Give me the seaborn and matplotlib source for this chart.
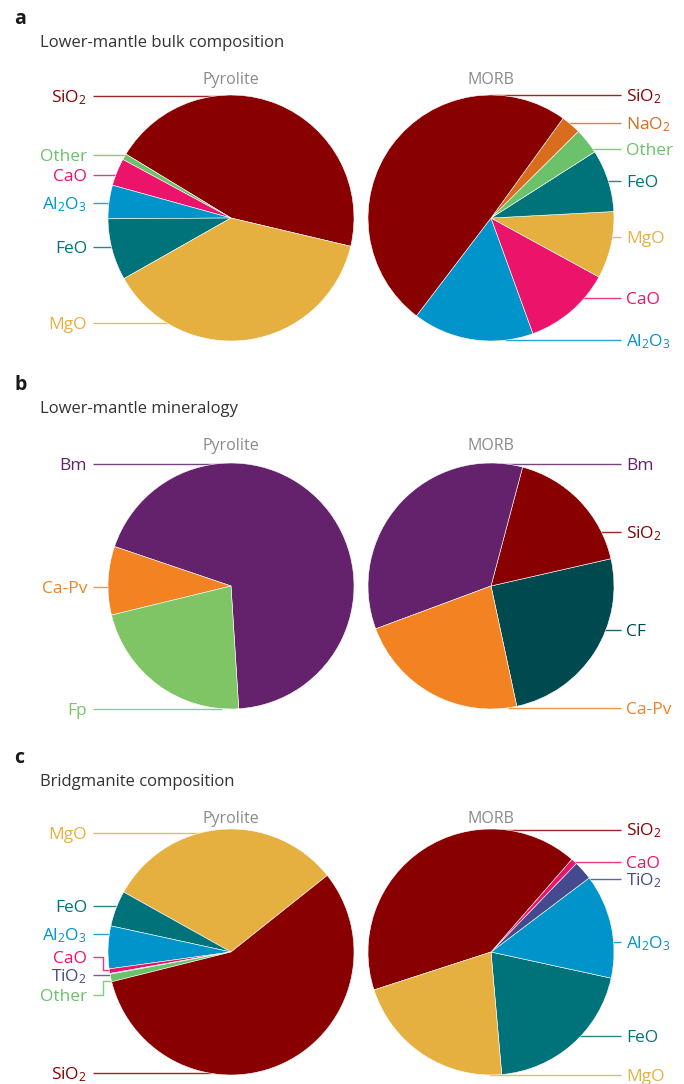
import numpy as np
import matplotlib
matplotlib.use("Agg")
import matplotlib.pyplot as plt
import seaborn as sns

W, H = 684, 1084

# ---- compositions (percent), listed counter-clockwise from the start angle ----
bulk_pyr_parts = ["SiO2", "Other", "CaO", "Al2O3", "FeO", "MgO"]
bulk_pyr_vals = [45.0, 0.8, 3.6, 4.4, 8.1, 38.1]

bulk_morb_parts = ["Al2O3", "CaO", "MgO", "FeO", "Other", "NaO2", "SiO2"]
bulk_morb_vals = [15.9, 11.5, 8.8, 8.2, 3.4, 2.6, 49.6]

min_pyr_parts = ["Bm", "Ca-Pv", "Fp"]
min_pyr_vals = [68.8, 9.0, 22.2]

min_morb_parts = ["CF", "SiO2", "Bm", "Ca-Pv"]
min_morb_vals = [25.2, 17.3, 34.8, 22.7]

bdg_pyr_parts = ["MgO", "FeO", "Al2O3", "CaO", "TiO2", "Other", "SiO2"]
bdg_pyr_vals = [31.2, 4.7, 5.6, 0.6, 0.1, 1.0, 56.8]

bdg_morb_parts = ["FeO", "Al2O3", "TiO2", "CaO", "SiO2", "MgO"]
bdg_morb_vals = [20.2, 13.7, 2.5, 0.8, 41.4, 21.4]

panel_letters = ["a", "b", "c"]
panel_titles = ["Lower-mantle bulk composition", "Lower-mantle mineralogy",
                "Bridgmanite composition"]
column_titles = ["Pyrolite", "MORB"]

display = {"SiO2": "SiO$_2$", "Al2O3": "Al$_2$O$_3$", "NaO2": "NaO$_2$",
           "TiO2": "TiO$_2$"}

colors = {
    "SiO2": "#890000", "MgO": "#E5B040", "FeO": "#00737A", "Al2O3": "#0094CB",
    "CaO": "#EC146A", "Other": "#6BC26B", "NaO2": "#D96D1E", "TiO2": "#434A8F",
    "Bm": "#63226B", "Ca-Pv": "#F38322", "Fp": "#80C565", "CF": "#00494F",
}

sns.set_theme(style="white")
plt.rcParams["font.family"] = ["Open Sans", "DejaVu Sans"]
plt.rcParams["mathtext.default"] = "regular"

fig = plt.figure(figsize=(W / 100, H / 100), dpi=100)
ax = fig.add_axes([0, 0, 1, 1])


def Y(p):
    return H - p


R = 123
PX = {"Pyrolite": 231, "MORB": 491}
ROW_Y = [218, 586, 952]
ROW_TOP = [24, 390, 762.7]

# pies: (row, column, parts, values, start angle, labels [(part, line y, target y)])
pies = [
    (0, "Pyrolite", bulk_pyr_parts, bulk_pyr_vals, -13.3,
     [("SiO2", 96, None), ("Other", 155, None), ("CaO", 175, None),
      ("Al2O3", 203, None), ("FeO", 246.5, None), ("MgO", 323, None)]),
    (0, "MORB", bulk_morb_parts, bulk_morb_vals, -127.3,
     [("SiO2", 95, None), ("NaO2", 123, None), ("Other", 149, None),
      ("FeO", 181, None), ("MgO", 237, None), ("CaO", 298, None),
      ("Al2O3", 340, None)]),
    (1, "Pyrolite", min_pyr_parts, min_pyr_vals, -86.4,
     [("Bm", 463.5, None), ("Ca-Pv", 587, None), ("Fp", 708.5, None)]),
    (1, "MORB", min_morb_parts, min_morb_vals, -77.9,
     [("Bm", 463.5, None), ("SiO2", 532, None), ("CF", 630, None),
      ("Ca-Pv", 707.5, None)]),
    (2, "Pyrolite", bdg_pyr_parts, bdg_pyr_vals, 38.5,
     [("MgO", 833, None), ("FeO", 906, None), ("Al2O3", 934, None),
      ("CaO", 956.5, 970), ("TiO2", 975, None), ("Other", 995, 980.5),
      ("SiO2", 1073, None)]),
    (2, "MORB", bdg_morb_parts, bdg_morb_vals, -85.0,
     [("SiO2", 829.5, None), ("CaO", 862, None), ("TiO2", 879, None),
      ("Al2O3", 942, None), ("FeO", 1036, None), ("MgO", 1075, None)]),
]

LEFT_TEXT_X, LEFT_LINE_X = 87, 93
RIGHT_TEXT_X, RIGHT_LINE_X = 626, 621
ELBOW_X = 103
FS = 12.5

for row, col, parts, vals, start, labels in pies:
    cx, cy = PX[col], ROW_Y[row]
    ax.pie(vals, colors=[colors[p] for p in parts], startangle=start,
           counterclock=True, center=(cx, Y(cy)), radius=R,
           wedgeprops=dict(linewidth=0.4, edgecolor="white"))
    left = col == "Pyrolite"
    for part, ly, ty in labels:
        ty = ly if ty is None else ty
        half = np.sqrt(max(R ** 2 - (ty - cy) ** 2, 0.0))
        c = colors[part]
        if left:
            xe = cx - half + 2
            if ty != ly:
                xs = [LEFT_LINE_X, ELBOW_X, ELBOW_X, xe]
                ys = [ly, ly, ty, ty]
            else:
                xs, ys = [LEFT_LINE_X, xe], [ly, ly]
            ax.text(LEFT_TEXT_X, Y(ly + 6.3), display.get(part, part), color=c,
                    fontsize=FS, ha="right", va="baseline")
        else:
            xe = cx + half - 2
            xs, ys = [RIGHT_LINE_X, xe], [ly, ly]
            ax.text(RIGHT_TEXT_X, Y(ly + 6.3), display.get(part, part), color=c,
                    fontsize=FS, ha="left", va="baseline")
        ax.plot(xs, [Y(v) for v in ys], color=c, lw=1.0, alpha=0.85,
                zorder=0.5, solid_capstyle="butt")

for row in range(3):
    top = ROW_TOP[row]
    ax.text(14, Y(top), panel_letters[row], fontsize=14, fontweight="bold",
            color="#1a1a1a", ha="left", va="baseline")
    ax.text(40, Y(top + 23), panel_titles[row], fontsize=12, color="#333333",
            ha="left", va="baseline")
    for col in column_titles:
        ax.text(PX[col], Y(top + 60), col, fontsize=11.5, color="#8a8a8a",
                ha="center", va="baseline")

ax.set_xlim(0, W)
ax.set_ylim(0, H)
ax.set_aspect("auto")
ax.axis("off")
fig.savefig("out.png", dpi=100, facecolor="white")
